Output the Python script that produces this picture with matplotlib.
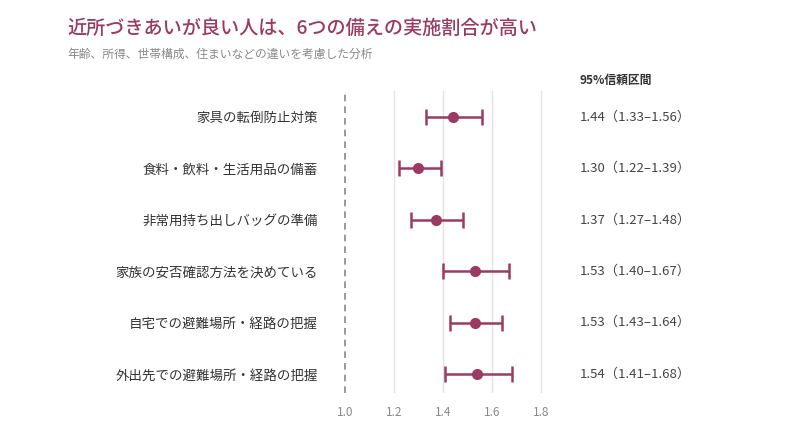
import matplotlib.pyplot as plt

plt.rcParams['font.family'] = ['Noto Sans CJK JP', 'DejaVu Sans']

items = ["家具の転倒防止対策", "食料・飲料・生活用品の備蓄", "非常用持ち出しバッグの準備",
         "家族の安否確認方法を決めている", "自宅での避難場所・経路の把握", "外出先での避難場所・経路の把握"]
odds = [1.44, 1.30, 1.37, 1.53, 1.53, 1.54]
lower = [1.33, 1.22, 1.27, 1.40, 1.43, 1.41]
upper = [1.56, 1.39, 1.48, 1.67, 1.64, 1.68]
xticks = [1.0, 1.2, 1.4, 1.6, 1.8]

accent = "#9b3a62"

fig = plt.figure(figsize=(8, 4.36), dpi=100)
ax = fig.add_axes([0.4251, 0.0986, 0.2573, 0.6927])

ypos = list(range(len(items)))
err_lo = [o - l for o, l in zip(odds, lower)]
err_hi = [u - o for o, u in zip(odds, upper)]
ax.errorbar(odds, ypos, xerr=[err_lo, err_hi], fmt="o", color=accent,
            markersize=7, elinewidth=1.8, capsize=6, capthick=1.8, zorder=3)

ax.axvline(1.0, color="#888888", linestyle=(0, (4, 3)), linewidth=1.2, zorder=2)
for t in xticks[1:]:
    ax.axvline(t, color="#e3e3e3", linewidth=1, zorder=1)

ax.set_xlim(0.98, 1.82)
ax.set_ylim(5.37, -0.5)
ax.set_xticks(xticks)
ax.set_xticklabels([f"{t:.1f}" for t in xticks], color="#888888", fontsize=8.5)
ax.tick_params(axis="x", length=0, pad=9)
ax.set_yticks(ypos)
ax.set_yticklabels(items, color="#333333", fontsize=9.7)
ax.tick_params(axis="y", length=0, pad=16)
for s in ax.spines.values():
    s.set_visible(False)

for y, o, l, u in zip(ypos, odds, lower, upper):
    fig.text(0.725, 1 - (117 + y * 51.4) / 436, f"{o:.2f}（{l:.2f}–{u:.2f}）",
             color="#444444", fontsize=9.5, va="center", ha="left")

fig.text(0.725, 1 - 80 / 436, "95%信頼区間", color="#333333", fontsize=8.5,
         fontweight="bold", va="center", ha="left")

fig.text(0.084, 1 - 28 / 436, "近所づきあいが良い人は、6つの備えの実施割合が高い",
         color=accent, fontsize=13.8, fontweight="medium", va="center", ha="left")
fig.text(0.084, 1 - 54 / 436, "年齢、所得、世帯構成、住まいなどの違いを考慮した分析",
         color="#888888", fontsize=8.5, va="center", ha="left")

fig.savefig("out.png", dpi=100, facecolor="white")
